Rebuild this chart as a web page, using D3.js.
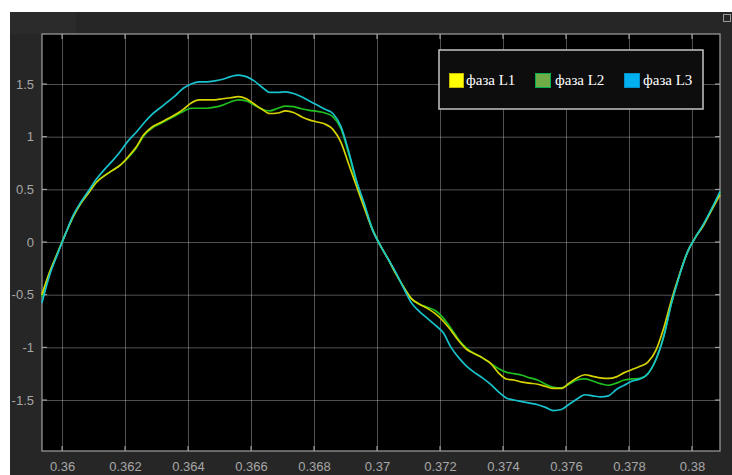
<!DOCTYPE html>
<html>
<head>
<meta charset="utf-8">
<script src="https://cdn.jsdelivr.net/npm/d3@7"></script>
<style>
  body { margin: 0; background: #fff; }
</style>
</head>
<body>
<div id="chart"></div>
<script>
// sample times (s)
const time = [0.35936, 0.3596, 0.35985, 0.3601, 0.36035, 0.3606, 0.36085, 0.3611, 0.36135, 0.3616,
  0.36185, 0.3621, 0.36235, 0.3626, 0.36285, 0.3631, 0.36335, 0.3636, 0.36385, 0.3641,
  0.36435, 0.3646, 0.36485, 0.3651, 0.36535, 0.3656, 0.36585, 0.3661, 0.36635, 0.3666,
  0.36685, 0.3671, 0.36735, 0.3676, 0.36785, 0.3681, 0.36835, 0.3686, 0.36885, 0.3691,
  0.36935, 0.3696, 0.36985, 0.3701, 0.37035, 0.3706, 0.37085, 0.3711, 0.37135, 0.3716,
  0.37185, 0.3721, 0.37235, 0.3726, 0.37285, 0.3731, 0.37335, 0.3736, 0.37385, 0.3741,
  0.37435, 0.3746, 0.37485, 0.3751, 0.37535, 0.3756, 0.37585, 0.3761, 0.37635, 0.3766,
  0.37685, 0.3771, 0.37735, 0.3776, 0.37785, 0.3781, 0.37835, 0.3786, 0.37885, 0.3791,
  0.37935, 0.3796, 0.37985, 0.3801, 0.38035, 0.3806, 0.38089];

const phaseL1 = [-0.50, -0.29, -0.11, 0.07, 0.24, 0.37, 0.47, 0.57, 0.63, 0.68,
  0.73, 0.81, 0.90, 1.02, 1.09, 1.13, 1.17, 1.21, 1.26, 1.32,
  1.35, 1.35, 1.35, 1.36, 1.37, 1.38, 1.36, 1.31, 1.26, 1.22,
  1.225, 1.245, 1.23, 1.19, 1.16, 1.14, 1.12, 1.07, 0.95, 0.74,
  0.53, 0.32, 0.12, -0.03, -0.16, -0.30, -0.43, -0.54, -0.59, -0.63,
  -0.68, -0.75, -0.84, -0.94, -1.02, -1.06, -1.10, -1.15, -1.24, -1.30,
  -1.31, -1.33, -1.34, -1.35, -1.37, -1.39, -1.39, -1.34, -1.29, -1.26,
  -1.275, -1.29, -1.295, -1.28, -1.24, -1.21, -1.18, -1.14, -1.03, -0.82,
  -0.55, -0.31, -0.10, 0.04, 0.15, 0.29, 0.45];

const phaseL2 = [-0.52, -0.30, -0.11, 0.07, 0.24, 0.37, 0.47, 0.57, 0.63, 0.68,
  0.73, 0.80, 0.89, 1.01, 1.08, 1.12, 1.16, 1.20, 1.24, 1.27,
  1.27, 1.27, 1.28, 1.30, 1.33, 1.35, 1.34, 1.30, 1.26, 1.245,
  1.27, 1.29, 1.285, 1.265, 1.25, 1.24, 1.225, 1.19, 1.08, 0.84,
  0.57, 0.35, 0.13, -0.03, -0.16, -0.30, -0.43, -0.54, -0.59, -0.62,
  -0.65, -0.72, -0.82, -0.93, -1.01, -1.06, -1.10, -1.15, -1.20, -1.235,
  -1.25, -1.265, -1.29, -1.31, -1.35, -1.38, -1.385, -1.35, -1.31, -1.30,
  -1.32, -1.345, -1.36, -1.34, -1.31, -1.30, -1.295, -1.25, -1.12, -0.90,
  -0.58, -0.32, -0.10, 0.04, 0.16, 0.30, 0.47];

const phaseL3 = [-0.58, -0.32, -0.12, 0.07, 0.25, 0.38, 0.49, 0.60, 0.69, 0.77,
  0.86, 0.96, 1.04, 1.13, 1.21, 1.27, 1.33, 1.39, 1.46, 1.50,
  1.52, 1.52, 1.53, 1.545, 1.57, 1.585, 1.57, 1.53, 1.47, 1.42,
  1.42, 1.425, 1.41, 1.38, 1.34, 1.30, 1.26, 1.22, 1.10, 0.86,
  0.58, 0.36, 0.12, -0.03, -0.16, -0.29, -0.44, -0.58, -0.66, -0.725,
  -0.79, -0.86, -1.00, -1.10, -1.18, -1.24, -1.29, -1.35, -1.42, -1.48,
  -1.50, -1.515, -1.53, -1.545, -1.57, -1.60, -1.59, -1.54, -1.49, -1.45,
  -1.46, -1.47, -1.46, -1.40, -1.36, -1.32, -1.30, -1.25, -1.12, -0.90,
  -0.58, -0.32, -0.10, 0.04, 0.16, 0.30, 0.48];

const xTicks = [0.36, 0.362, 0.364, 0.366, 0.368, 0.37, 0.372, 0.374, 0.376, 0.378, 0.38];
const yTicks = [-1.5, -1, -0.5, 0, 0.5, 1, 1.5];
const seriesNames = ["фаза L1", "фаза L2", "фаза L3"];

let w = 732, h = 475;
let pLeft = 42, pRight = 720, pTop = 34, pBottom = 451;

let svg = d3.select("#chart")
    .append("svg")
    .attr("width", w)
    .attr("height", h);

// figure background
svg.append("rect").attr("x", 0).attr("y", 0).attr("width", w).attr("height", h).attr("fill", "#ffffff");
svg.append("rect").attr("x", 10).attr("y", 12).attr("width", w - 10).attr("height", h - 12).attr("fill", "#262626");
svg.append("rect").attr("x", 10).attr("y", 12).attr("width", 66).attr("height", 22).attr("fill", "#2b2b2b");
// little window icon top right
svg.append("rect").attr("x", 723.5).attr("y", 14.5).attr("width", 7).attr("height", 7)
    .attr("fill", "none").attr("stroke", "#9a9a9a");

// plot area
svg.append("rect").attr("x", pLeft).attr("y", pTop)
    .attr("width", pRight - pLeft).attr("height", pBottom - pTop)
    .attr("fill", "#000000");

let x = d3.scaleLinear().domain([0.359364, 0.38089]).range([pLeft, pRight]);
let y = d3.scaleLinear().domain([-1.984, 1.975]).range([pBottom, pTop]);

// grid + tick labels
let xAxis = svg.append("g").attr("transform", "translate(0," + pBottom + ")")
    .call(d3.axisBottom(x).tickValues(xTicks).tickSize(-(pBottom - pTop)).tickPadding(11)
        .tickFormat(d => String(d)));
let yAxis = svg.append("g").attr("transform", "translate(" + pLeft + ",0)")
    .call(d3.axisLeft(y).tickValues(yTicks).tickSize(-(pRight - pLeft)).tickPadding(8)
        .tickFormat(d => String(d)));

[xAxis, yAxis].forEach(a => {
    a.select(".domain").remove();
    a.selectAll(".tick line").attr("stroke", "rgba(255,255,255,0.32)").attr("stroke-width", 1);
    a.selectAll(".tick text").attr("fill", "#a6a6a6")
        .style("font-family", "'Liberation Sans', Arial, sans-serif").style("font-size", "13px");
});

// short tick marks on the frame
let tickMarks = svg.append("g").attr("stroke", "#b4b4b4").attr("stroke-width", 1);
yTicks.forEach(v => {
    tickMarks.append("line").attr("x1", pLeft).attr("x2", pLeft + 5).attr("y1", y(v)).attr("y2", y(v));
    tickMarks.append("line").attr("x1", pRight - 5).attr("x2", pRight).attr("y1", y(v)).attr("y2", y(v));
});
xTicks.forEach(v => {
    tickMarks.append("line").attr("x1", x(v)).attr("x2", x(v)).attr("y1", pBottom).attr("y2", pBottom - 5);
    tickMarks.append("line").attr("x1", x(v)).attr("x2", x(v)).attr("y1", pTop).attr("y2", pTop + 5);
});

// frame
svg.append("rect").attr("x", pLeft).attr("y", pTop)
    .attr("width", pRight - pLeft).attr("height", pBottom - pTop)
    .attr("fill", "none").attr("stroke", "#a0a0a0").attr("stroke-width", 1.2);

// lines
let line = d3.line()
    .x((d, i) => x(time[i]))
    .y(d => y(d))
    .curve(d3.curveMonotoneX);

let plot = svg.append("g");
let lineData = [
    {vals: phaseL2, color: "#1fbf1f"},
    {vals: phaseL1, color: "#d6d400"},
    {vals: phaseL3, color: "#17c2cc"}
];
lineData.forEach(s => {
    plot.append("path")
        .attr("d", line(s.vals))
        .attr("fill", "none")
        .attr("stroke", s.color)
        .attr("stroke-width", 1.7)
        .attr("stroke-linejoin", "round");
});

// legend
let legend = svg.append("g");
legend.append("rect").attr("x", 439).attr("y", 50).attr("width", 264).attr("height", 59)
    .attr("fill", "#0d0d0d").attr("stroke", "#c4c4c4").attr("stroke-width", 1.5);
let legendItems = [
    {name: seriesNames[0], fill: "#ffff00", stroke: "#c9b800", sx: 449.5, tx: 466},
    {name: seriesNames[1], fill: "#70ad47", stroke: "#00b050", sx: 535.5, tx: 555},
    {name: seriesNames[2], fill: "#00b0f0", stroke: "#0090c8", sx: 624.5, tx: 643}
];
legendItems.forEach((d, i) => {
    legend.append("rect").attr("x", d.sx).attr("y", 73.5)
        .attr("width", i == 0 ? 14 : 15).attr("height", 14)
        .attr("fill", d.fill).attr("stroke", d.stroke).attr("stroke-width", 1);
    legend.append("text").attr("x", d.tx).attr("y", 85)
        .attr("fill", "#ffffff")
        .style("font-family", "'Liberation Serif', 'Times New Roman', serif")
        .style("font-size", "15px")
        .text(d.name);
});
</script>
</body>
</html>
